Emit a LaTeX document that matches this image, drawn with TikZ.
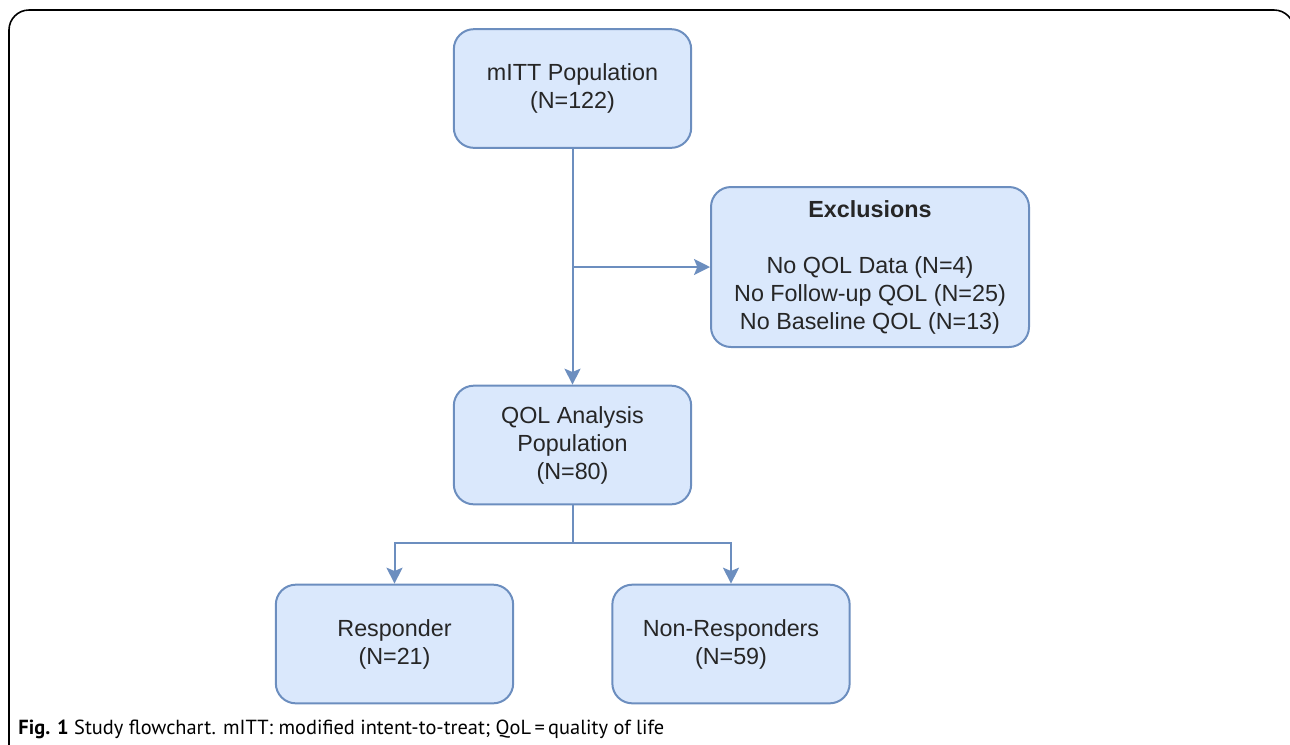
\documentclass[tikz,border=0pt]{standalone}
\usepackage{fontspec}
\setmainfont{Liberation Sans}
\newfontfamily\capfont{PT Sans}
\usetikzlibrary{arrows.meta}
\definecolor{boxfill}{HTML}{DAE8FC}
\definecolor{boxline}{HTML}{6C8EBF}
\tikzset{every picture/.style={line width=0.75pt}}
\tikzset{
  flowbox/.style={draw=boxline, fill=boxfill, line width=1.5pt, rounded corners=15pt,
    align=center, inner sep=0pt, text=black!85,
    font=\fontsize{17.5}{21}\selectfont, minimum width=178pt, minimum height=89pt},
  flowline/.style={draw=boxline, line width=1.5pt, -{Stealth[length=12pt,width=12pt,inset=2.5pt]}}
}

\begin{document}
\begin{tikzpicture}[x=0.75pt,y=0.75pt,yscale=-1,xscale=1]
	\path[use as bounding box] (0,0) rectangle (1290,744);

	%Frame
	\draw [line width=1.2pt, rounded corners=15pt]  (9,760) -- (9,10) -- (1294,10) -- (1294,760) ;

	% Boxes
	\node [flowbox] (mitt) at (572.5,88.5) {mITT Population\\(N=122)};
	\node [flowbox, minimum width=238.5pt, minimum height=120pt] (excl) at (870,267)
	  {\textbf{Exclusions}\\[21pt]No QOL Data (N=4)\\No Follow-up QOL (N=25)\\No Baseline QOL (N=13)};
	\node [flowbox] (qol) at (572.5,445) {QOL Analysis\\Population\\(N=80)};
	\node [flowbox] (resp) at (394.5,644) {Responder\\(N=21)};
	\node [flowbox] (nonresp) at (731,644) {Non-Responders\\(N=59)};

	% Connectors
	\coordinate (fork) at (572.5,543);
	\draw [flowline]  (mitt.south) -- (qol.north) ;
	\draw [flowline]  (mitt.south |- excl.west) -- (excl.west) ;
	\draw [flowline]  (qol.south) -- (fork) -| (resp.north) ;
	\draw [flowline]  (fork) -| (nonresp.north) ;

	% Caption
	\node [anchor=base west, inner sep=0pt, font=\capfont\fontsize{15.3}{18}\selectfont] (caption) at (18,734)
	  {\textbf{Fig. 1} Study flowchart. mITT: modified intent-to-treat; QoL\,=\,quality of life};

\end{tikzpicture}
\end{document}
